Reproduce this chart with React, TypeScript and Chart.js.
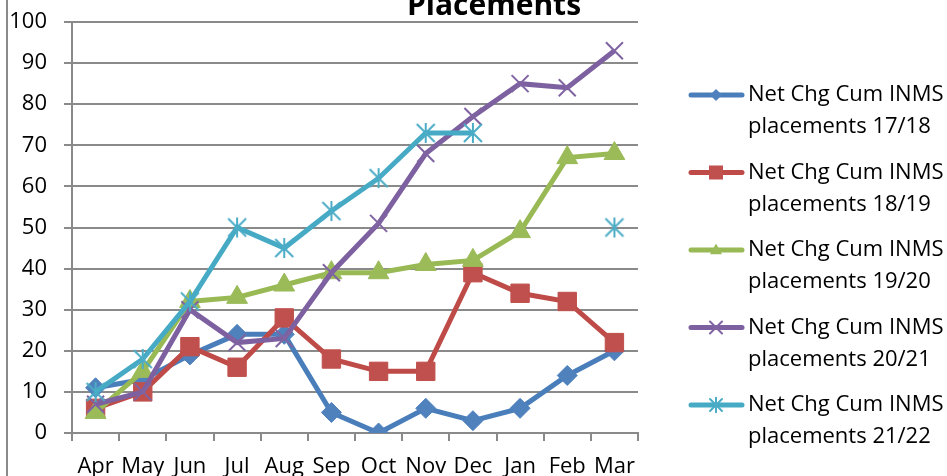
import React, { useEffect, useRef } from "react";
import { Chart, registerables } from "chart.js";

Chart.register(...registerables);

const months = ["Apr", "May", "Jun", "Jul", "Aug", "Sep", "Oct", "Nov", "Dec", "Jan", "Feb", "Mar"];
const s1718 = [11, 13, 19, 24, 24, 5, 0, 6, 3, 6, 14, 20];
const s1819 = [6, 10, 21, 16, 28, 18, 15, 15, 39, 34, 32, 22];
const s1920 = [5, 15, 32, 33, 36, 39, 39, 41, 42, 49, 67, 68];
const s2021 = [7, 10, 30, 22, 23, 39, 51, 68, 77, 85, 84, 93];
const s2122 = [10, 18, 32, 50, 45, 54, 62, 73, 73, null, null, 50];
const seriesNames = [
  ["Net Chg Cum INMS", "placements 17/18"],
  ["Net Chg Cum INMS", "placements 18/19"],
  ["Net Chg Cum INMS", "placements 19/20"],
  ["Net Chg Cum INMS", "placements 20/21"],
  ["Net Chg Cum INMS", "placements 21/22"],
];
const titleText = "Placements";

const lineColors = ["#4A7EBB", "#BE4B48", "#98B954", "#7D60A0", "#46AAC5"];
const markColors = ["#4F81BD", "#C0504D", "#9BBB59", "#8064A2", "#4BACC6"];
const FONT = "'Open Sans', sans-serif";

function makeAsterisk(color: string, half: number, lw: number) {
  const c = document.createElement("canvas");
  const s = Math.ceil(half * 2 + lw * 2);
  c.width = s;
  c.height = s;
  const ctx = c.getContext("2d")!;
  const m = s / 2;
  const d = half * 0.9;
  ctx.strokeStyle = color;
  ctx.lineWidth = lw;
  ctx.beginPath();
  ctx.moveTo(m - d, m - d);
  ctx.lineTo(m + d, m + d);
  ctx.moveTo(m + d, m - d);
  ctx.lineTo(m - d, m + d);
  ctx.moveTo(m, m - half);
  ctx.lineTo(m, m + half);
  ctx.stroke();
  return c;
}

function drawMarker(ctx: CanvasRenderingContext2D, i: number, x: number, y: number, r: number) {
  ctx.save();
  ctx.fillStyle = markColors[i];
  ctx.strokeStyle = markColors[i];
  ctx.beginPath();
  if (i === 0) {
    ctx.moveTo(x, y - r);
    ctx.lineTo(x + r, y);
    ctx.lineTo(x, y + r);
    ctx.lineTo(x - r, y);
    ctx.closePath();
    ctx.fill();
  } else if (i === 1) {
    ctx.fillRect(x - r, y - r, 2 * r, 2 * r);
  } else if (i === 2) {
    ctx.moveTo(x, y - r * 1.1);
    ctx.lineTo(x + r, y + r * 0.7);
    ctx.lineTo(x - r, y + r * 0.7);
    ctx.closePath();
    ctx.fill();
  } else if (i === 3) {
    ctx.lineWidth = 2;
    ctx.moveTo(x - r, y - r);
    ctx.lineTo(x + r, y + r);
    ctx.moveTo(x + r, y - r);
    ctx.lineTo(x - r, y + r);
    ctx.stroke();
  } else {
    ctx.lineWidth = 2;
    ctx.moveTo(x - r, y - r);
    ctx.lineTo(x + r, y + r);
    ctx.moveTo(x + r, y - r);
    ctx.lineTo(x - r, y + r);
    ctx.moveTo(x, y - r * 1.2);
    ctx.lineTo(x, y + r * 1.2);
    ctx.stroke();
  }
  ctx.restore();
}

const decorPlugin = {
  id: "decor",
  afterDraw(chart: any) {
    const ctx: CanvasRenderingContext2D = chart.ctx;
    ctx.save();
    ctx.strokeStyle = "#8a8a8a";
    ctx.lineWidth = 2;
    ctx.beginPath();
    ctx.moveTo(7, 0);
    ctx.lineTo(7, chart.height);
    ctx.stroke();
    ctx.fillStyle = "#000";
    ctx.font = `bold 30px ${FONT}`;
    ctx.textAlign = "center";
    ctx.textBaseline = "alphabetic";
    ctx.fillText(titleText, 494, 15);
    const startY = 95;
    const gap = 77.5;
    ctx.font = `22px ${FONT}`;
    ctx.textAlign = "left";
    ctx.textBaseline = "middle";
    for (let i = 0; i < seriesNames.length; i++) {
      const y = startY + i * gap;
      ctx.strokeStyle = lineColors[i];
      ctx.lineWidth = 5;
      ctx.lineCap = "round";
      ctx.beginPath();
      ctx.moveTo(691, y);
      ctx.lineTo(742, y);
      ctx.stroke();
      drawMarker(ctx, i, 716, y, i === 1 ? 7 : 6);
      ctx.fillStyle = "#000";
      ctx.fillText(seriesNames[i][0], 748, y);
      ctx.fillText(seriesNames[i][1], 748, y + 32);
    }
    ctx.restore();
  },
};

export default function App() {
  const ref = useRef<HTMLCanvasElement>(null);
  useEffect(() => {
    if (!ref.current) return;
    const star = makeAsterisk(markColors[4], 10, 2);
    const data = [s1718, s1819, s1920, s2021, s2122];
    const styles: any[] = ["rectRot", "rect", "triangle", "crossRot", star];
    const radii = [10, 13, 12, 12, 10];
    const chart = new Chart(ref.current, {
      type: "line",
      data: {
        labels: months,
        datasets: data.map((d, i) => ({
          label: seriesNames[i].join(" "),
          data: d,
          borderColor: lineColors[i],
          backgroundColor: markColors[i],
          pointBackgroundColor: markColors[i],
          pointBorderColor: markColors[i],
          pointBorderWidth: i >= 3 ? 2 : 1,
          borderWidth: 5,
          pointStyle: styles[i],
          pointRadius: radii[i],
          tension: 0,
          spanGaps: false,
          order: 5 - i,
        })),
      },
      options: {
        responsive: false,
        animation: false,
        layout: { padding: { left: 0, right: 309, top: 22, bottom: 0 } },
        plugins: { legend: { display: false }, title: { display: false }, tooltip: { enabled: false } },
        scales: {
          x: {
            offset: true,
            grid: {
              display: true,
              offset: true,
              drawOnChartArea: false,
              drawTicks: true,
              tickLength: 8,
              color: "#8a8a8a",
              lineWidth: 2,
            },
            border: { display: true, color: "#8a8a8a", width: 2 },
            ticks: { color: "#000", font: { family: FONT, size: 22 }, padding: 13, maxRotation: 0, autoSkip: false },
            afterFit: (s: any) => {
              s.height = 43;
              s.paddingLeft = 0;
              s.paddingRight = 0;
            },
          },
          y: {
            min: 0,
            max: 100,
            grid: { color: "#8a8a8a", lineWidth: 2, tickLength: 8 },
            border: { display: true, color: "#8a8a8a", width: 2 },
            ticks: { stepSize: 10, color: "#000", font: { family: FONT, size: 22 }, padding: 17 },
            afterFit: (s: any) => {
              s.width = 72;
              s.paddingTop = 0;
              s.paddingBottom = 0;
            },
          },
        },
      },
      plugins: [decorPlugin],
    });
    return () => chart.destroy();
  }, []);
  return (
    <div style={{ position: "fixed", left: 0, top: 0, width: 947, height: 476, background: "#fff" }}>
      <canvas ref={ref} width={947} height={476} style={{ width: 947, height: 476 }} />
    </div>
  );
}
